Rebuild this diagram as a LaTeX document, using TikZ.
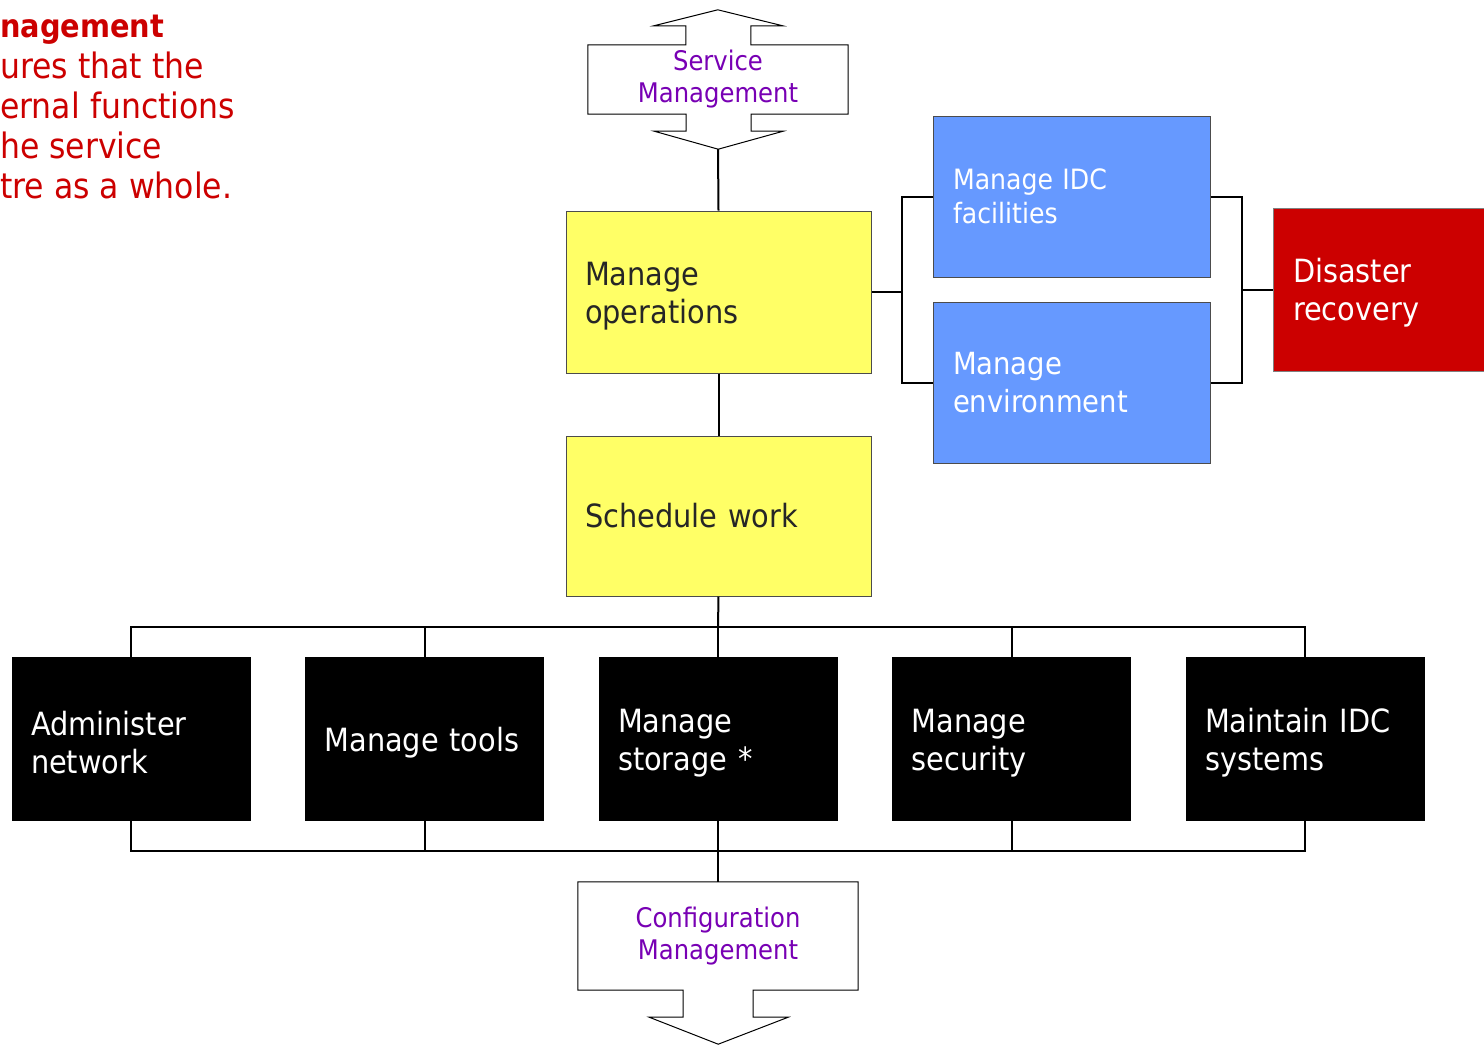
\documentclass[tikz,border=0pt]{standalone}
\usepackage{fontspec}
\setmainfont{DejaVu Sans}[FakeStretch=0.9]
\definecolor{opsyellow}{HTML}{FFFF66}
\definecolor{idcblue}{HTML}{6699FF}
\definecolor{drred}{HTML}{CC0000}
\definecolor{mgmtpurple}{RGB}{120,0,180}

\begin{document}
\begin{tikzpicture}[x=1pt,y=-1pt,
   box/.style={rectangle,draw=black!70,line width=1pt,align=left,inner xsep=19pt,
     text width=267pt,minimum height=162pt,font=\fontsize{32}{38}\selectfont},
   lowered/.style={text height=32pt},
   opsbox/.style={box,fill=opsyellow,text=black!85},
   idcbox/.style={box,fill=idcblue,text=white,inner xsep=20pt,text width=237pt,minimum height=161pt},
   drbox/.style={box,fill=drred,text=white,draw=black!50,inner xsep=20pt,text width=200pt,minimum height=163pt},
   taskbox/.style={box,lowered,fill=black,draw=black,text=white,inner xsep=19pt,text width=200pt,minimum height=163pt},
   mgmt/.style={align=center,text=mgmtpurple,font=\fontsize{27}{32}\selectfont},
   blockarrow/.style={draw=black,line width=1pt,fill=white},
   link/.style={line width=2pt},
   note/.style={inner sep=0pt,text=drred,font=\fontsize{35}{40}\selectfont}]
   \clip (0,0) rectangle (1484,1045);

   % remark on the left
   \foreach \i/\y/\t in {1/37/{\bfseries\fontsize{32}{40}\selectfont nagement},2/78/{ures that the},
     3/118/{ernal functions},4/158/{he service},5/198/{tre as a whole.}}
     \node[note,anchor=base west] (note\i) at (0,\y) {\t};

   % service management, double block arrow
   \node[minimum width=260pt,minimum height=69pt] (svc) at (718,79.5) {};
   \draw[blockarrow] (svc.south west) -- (svc.north west) -- ++(98,0) -- ++(0,-19) -- ++(-32,0)
     -- ++(64,-16) -- ++(65,16) -- ++(-32,0) -- ++(0,19) -- (svc.north east) -- (svc.south east)
     -- ++(-97,0) -- ++(0,17) -- ++(32,0) -- ++(-65,18) -- ++(-64,-18) -- ++(32,0) -- ++(0,-17) -- cycle;
   \node[mgmt] at (svc) {Service\\Management};
   \coordinate (svctip) at (718,149);

   \node[opsbox,lowered] (ops) at (718.5,292) {Manage\\operations};
   \node[opsbox,minimum height=160pt] (sched) at (718.5,516) {Schedule work};

   \node[idcbox,font=\fontsize{28}{34}\selectfont] (idc) at (1071.5,196.5) {Manage IDC\\facilities};
   \node[idcbox,font=\fontsize{30.5}{38}\selectfont] (env) at (1071.5,382.5) {Manage\\environment};
   \node[drbox,text height=30pt] (dr) at (1393,289.5) {Disaster\\recovery};

   \foreach \n/\x/\t in {net/131/{Administer\\network},tools/424.5/{Manage tools},
     stor/718/{Manage\\storage *},sec/1011.5/{Manage\\security},sys/1305/{Maintain IDC\\systems}}
     \node[taskbox] (\n) at (\x,738.5) {\t};

   % configuration management, block arrow down
   \node[minimum width=280pt,minimum height=108pt] (cfg) at (718,936) {};
   \draw[blockarrow] (cfg.north west) -- (cfg.north east) -- (cfg.south east) -- ++(-105,0)
     -- ++(0,27) -- ++(35,0) -- ++(-70,27) -- ++(-69,-27) -- ++(34,0) -- ++(0,-27)
     -- (cfg.south west) -- cycle;
   \node[mgmt] at (cfg) {Configuration\\Management};

   % connectors
   \draw[link] (svctip) -- (ops.north);
   \draw[link] (ops.south) -- (sched.north);
   \coordinate (lj) at (902,292);
   \coordinate (rj) at (1242,289.5);
   \draw[link] (ops.east) -- (lj);
   \draw[link] (idc.west) -| (lj);
   \draw[link] (env.west) -| (lj);
   \draw[link] (idc.east) -| (rj);
   \draw[link] (env.east) -| (rj);
   \draw[link] (rj) -- (dr.west);
   \coordinate (bustop) at (718,627);
   \coordinate (busbot) at (718,851);
   \draw[link] (sched.south) -- (bustop);
   \foreach \n in {net,tools,stor,sec,sys} {
     \draw[link] (bustop) -| (\n.north);
     \draw[link] (\n.south) |- (busbot);
   }
   \draw[link] (busbot) -- (cfg.north);
\end{tikzpicture}
\end{document}
